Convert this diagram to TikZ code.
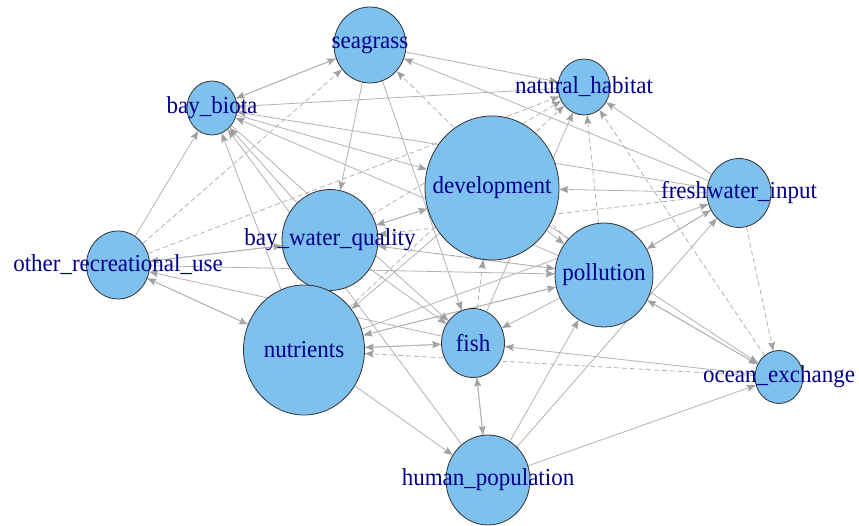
\documentclass[tikz,border=0pt]{standalone}
\usepackage{fontspec}
\setmainfont{Liberation Serif}
\usetikzlibrary{arrows.meta,shapes.geometric,backgrounds}
\definecolor{VtxFill}{RGB}{126,192,238}
\definecolor{VtxLine}{RGB}{50,50,50}
\definecolor{LabBlue}{RGB}{0,0,139}
\definecolor{EdgeGrey}{RGB}{178,178,178}
\definecolor{TipGrey}{RGB}{160,160,160}
\tikzset{
  >={Stealth[length=9pt,width=7pt,inset=1.5pt,color=TipGrey]},
  vtx/.style={ellipse,draw=VtxLine,line width=0.8pt,fill=VtxFill,inner sep=0pt},
  lab/.style={text=LabBlue,font=\fontsize{23}{26}\selectfont,inner sep=0pt,yscale=1.06},
  tie/.style={->,draw=EdgeGrey,line width=0.8pt},
  dtie/.style={tie,dash pattern=on 5pt off 3pt}
}
\begin{document}
\begin{tikzpicture}[x=1pt,y=-1pt]
  \useasboundingbox (0,0) rectangle (859,526);
  % vertices
  \node[vtx,minimum width=72pt,minimum height=76pt] (sg) at (370,45) {};
  \node[vtx,minimum width=52pt,minimum height=56pt] (nh) at (584,87) {};
  \node[vtx,minimum width=50pt,minimum height=54pt] (bb) at (212,108) {};
  \node[vtx,minimum width=134pt,minimum height=144pt] (dev) at (492,188) {};
  \node[vtx,minimum width=64pt,minimum height=69pt] (fw) at (739,193) {};
  \node[vtx,minimum width=96pt,minimum height=101pt] (bwq) at (330,240) {};
  \node[vtx,minimum width=63pt,minimum height=68pt] (oru) at (118,265) {};
  \node[vtx,minimum width=98pt,minimum height=104pt] (pol) at (604,275) {};
  \node[vtx,minimum width=121pt,minimum height=130pt] (nut) at (304,350) {};
  \node[vtx,minimum width=63pt,minimum height=69pt] (fish) at (473,343) {};
  \node[vtx,minimum width=48pt,minimum height=53pt] (oe) at (779,377) {};
  \node[vtx,minimum width=84pt,minimum height=90pt] (hp) at (488,480) {};
  % labels
  \node[lab] (sg-l) at (sg) {seagrass};
  \node[lab] (nh-l) at (nh) {natural\_habitat};
  \node[lab] (bb-l) at (bb) {bay\_biota};
  \node[lab] (dev-l) at (dev) {development};
  \node[lab] (fw-l) at (fw) {freshwater\_input};
  \node[lab] (bwq-l) at (bwq) {bay\_water\_quality};
  \node[lab] (oru-l) at (oru) {other\_recreational\_use};
  \node[lab] (pol-l) at (pol) {pollution};
  \node[lab] (nut-l) at (nut) {nutrients};
  \node[lab] (fish-l) at (fish) {fish};
  \node[lab] (oe-l) at (oe) {ocean\_exchange};
  \node[lab] (hp-l) at (hp) {human\_population};
  % edges
  \begin{scope}[on background layer]
    \draw[tie] (bb) -- (sg);
    \draw[tie] (sg) -- (bb);
    \draw[tie] (nh) -- (bb);
    \draw[tie] (sg) -- (nh);
    \draw[tie] (fw) -- (sg);
    \draw[tie] (fw) -- (bb);
    \draw[tie] (pol) -- (bb);
    \draw[tie] (oru) -- (bb);
    \draw[tie] (bwq) -- (bb);
    \draw[tie] (nut) -- (bb);
    \draw[tie] (hp) -- (bb);
    \draw[tie] (bb) -- (dev);
    \draw[tie] (bb) -- (fish);
    \draw[tie] (sg) -- (bwq);
    \draw[tie] (sg) -- (fish);
    \draw[tie] (fw) -- (nh);
    \draw[tie] (fish) -- (nh);
    \draw[tie] (fw) -- (dev);
    \draw[tie] (bwq) -- (dev);
    \draw[tie] (dev) -- (bwq);
    \draw[tie] (dev) -- (pol);
    \draw[tie] (dev) -- (nut);
    \draw[tie] (pol) -- (fw);
    \draw[tie] (fw) -- (pol);
    \draw[tie] (hp) -- (fw);
    \draw[tie] (nut) -- (fw);
    \draw[tie] (pol) -- (oe);
    \draw[tie] (oe) -- (pol);
    \draw[tie] (hp) -- (oe);
    \draw[tie] (dev) -- (oe);
    \draw[tie] (oe) -- (fish);
    \draw[tie] (nut) -- (fish);
    \draw[tie] (fish) -- (nut);
    \draw[tie] (pol) -- (fish);
    \draw[tie] (fish) -- (hp);
    \draw[tie] (hp) -- (fish);
    \draw[tie] (nut) -- (hp);
    \draw[tie] (hp) -- (pol);
    \draw[tie] (oru) -- (pol);
    \draw[tie] (nut) -- (pol);
    \draw[tie] (pol) -- (bwq);
    \draw[tie] (pol) -- (nut);
    \draw[tie] (oru) -- (nut);
    \draw[tie] (nut) -- (oru);
    \draw[tie] (bwq) -- (oru);
    \draw[tie] (oru) -- (bwq);
    \draw[tie] (fish) -- (oru);
    \draw[tie] (bwq) -- (fish);
    \draw[dtie] (oru) -- (sg);
    \draw[dtie] (pol) -- (sg);
    \draw[dtie] (oru) -- (nh);
    \draw[dtie] (bwq) -- (nh);
    \draw[dtie] (nut) -- (nh);
    \draw[dtie] (pol) -- (nh);
    \draw[dtie] (oe) -- (nh);
    \draw[dtie] (fw) -- (oe);
    \draw[dtie] (fw) -- (bwq);
    \draw[dtie] (oe) -- (nut);
    \draw[dtie] (fish) -- (dev);
    \draw[dtie] (bwq) -- (pol);
  \end{scope}
\end{tikzpicture}
\end{document}
